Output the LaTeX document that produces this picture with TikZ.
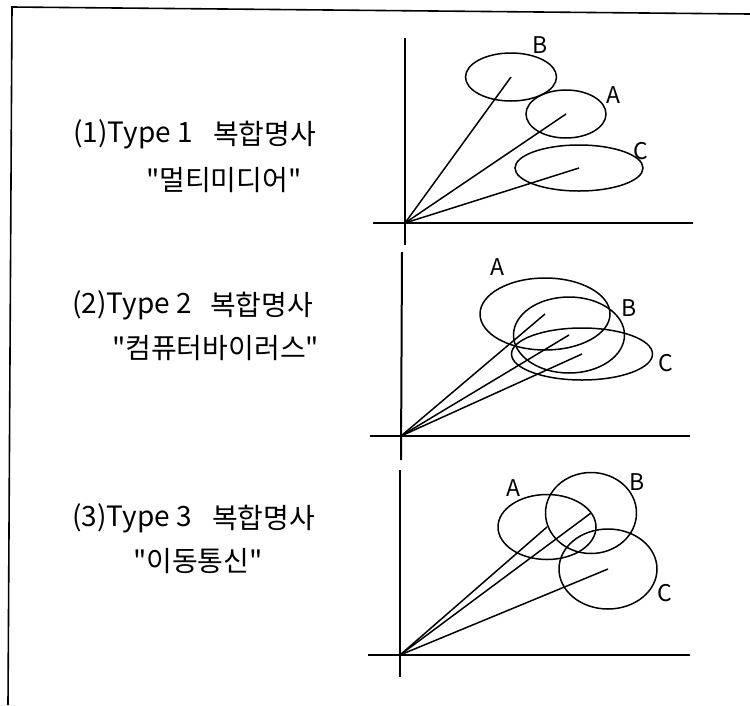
\documentclass[tikz,border=0pt]{standalone}
\usepackage{fontspec}
\usetikzlibrary{shapes.geometric}
\setmainfont{Noto Sans CJK KR}
\newfontfamily\kr{Noto Sans CJK KR}
\begin{document}
\begin{tikzpicture}[x=1pt,y=-1pt,
  axis/.style={line width=2pt},
  vec/.style={line width=1.5pt},
  blob/.style={ellipse,draw,line width=1.5pt,inner sep=0pt},
  lbl/.style={font=\kr\fontsize{23}{23}\selectfont,inner sep=0pt},
  captext/.style={font=\kr\fontsize{28}{28}\selectfont,inner sep=0pt,anchor=west}]
\useasboundingbox (0,0) rectangle (750,705);
% frame
\coordinate (f1) at (8,705);
\coordinate (f2) at (12,7);
\coordinate (f3) at (750,14);
\draw[line width=1.6pt] (f1) -- (f2) -- (f3);

% ---------- panel 1 ----------
\coordinate (o1) at (405,223);
\coordinate (v1t) at (405,38);
\coordinate (v1b) at (405,245);
\coordinate (h1l) at (373,223);
\coordinate (h1r) at (693,223);
\draw[axis] (v1t) -- (v1b);
\draw[axis] (h1l) -- (h1r);
\node[blob,minimum width=91pt,minimum height=48pt] (B1) at (511,77) {};
\node[blob,minimum width=80pt,minimum height=48pt] (A1) at (566,114) {};
\node[blob,minimum width=128pt,minimum height=46pt] (C1) at (579,168) {};
\draw[vec] (o1) -- (B1.center);
\draw[vec] (o1) -- (A1.center);
\draw[vec] (o1) -- (C1.center);
\node[lbl] (lB1) at (540,45) {B};
\node[lbl] (lA1) at (613,95) {A};
\node[lbl] (lC1) at (641,151) {C};

% ---------- panel 2 ----------
\coordinate (o2) at (401,436);
\coordinate (v2t) at (402,252);
\coordinate (v2b) at (401,460);
\coordinate (h2l) at (370,436);
\coordinate (h2r) at (690,436);
\draw[axis] (v2t) -- (v2b);
\draw[axis] (h2l) -- (h2r);
\node[blob,minimum width=130pt,minimum height=72pt] (A2) at (545,314) {};
\node[blob,minimum width=111pt,minimum height=76pt] (B2) at (569,335) {};
\node[blob,minimum width=141pt,minimum height=52pt] (C2) at (582,354) {};
\draw[vec] (o2) -- (A2.center);
\draw[vec] (o2) -- (B2.center);
\draw[vec] (o2) -- (C2.center);
\node[lbl] (lA2) at (497,267) {A};
\node[lbl] (lB2) at (629,308) {B};
\node[lbl] (lC2) at (666,363) {C};

% ---------- panel 3 ----------
\coordinate (o3) at (400,655);
\coordinate (v3t) at (400,470);
\coordinate (v3b) at (400,677);
\coordinate (h3l) at (368,655);
\coordinate (h3r) at (690,655);
\draw[axis] (v3t) -- (v3b);
\draw[axis] (h3l) -- (h3r);
\node[blob,minimum width=98pt,minimum height=65pt] (A3) at (547,527) {};
\node[blob,minimum width=91pt,minimum height=81pt] (B3) at (591,513) {};
\node[blob,minimum width=98pt,minimum height=80pt] (C3) at (608,569) {};
\draw[vec] (o3) -- (A3.center);
\draw[vec] (o3) -- (B3.center);
\draw[vec] (o3) -- (C3.center);
\node[lbl] (lA3) at (513,488) {A};
\node[lbl] (lB3) at (637,482) {B};
\node[lbl] (lC3) at (665,593) {C};

% ---------- captions ----------
\node[captext] (t1a) at (73,134) {(1)Type 1};
\node[captext] (t1b) at (213,134) {복합명사};
\node[captext] (w1) at (146,180) {"멀티미디어"};
\node[captext] (t2a) at (72,305) {(2)Type 2};
\node[captext] (t2b) at (210,305) {복합명사};
\node[captext] (w2) at (112,348) {"컴퓨터바이러스"};
\node[captext] (t3a) at (72,518) {(3)Type 3};
\node[captext] (t3b) at (212,518) {복합명사};
\node[captext] (w3) at (133,561) {"이동통신"};
\end{tikzpicture}
\end{document}
